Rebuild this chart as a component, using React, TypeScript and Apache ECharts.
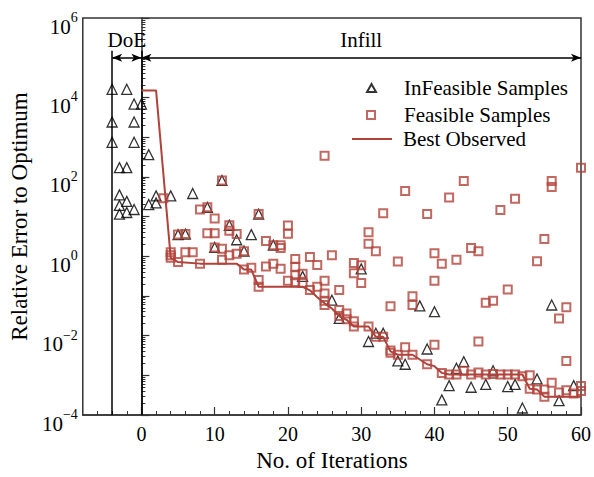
import React, { useEffect, useRef } from 'react';
import * as echarts from 'echarts';

const FONT = '"Liberation Serif", "Times New Roman", serif';
const RED = '#B1423A';
const DARK = '#333333';

const seriesNames = ['InFeasible Samples', 'Feasible Samples', 'Best Observed'];
const phaseLabels = ['DoE', 'Infill'];
const xAxisTitle = 'No. of Iterations';
const yAxisTitle = 'Relative Error to Optimum';

const xMajorTicks = [0, 10, 20, 30, 40, 50, 60];
const xMinorTicks = [-6, -4, -2, 2, 4, 6, 8, 12, 14, 16, 18, 22, 24, 26, 28, 32, 34, 36, 38, 42, 44, 46, 48, 52, 54, 56, 58];
const yMajorTicks = [1e-4, 1e-3, 1e-2, 1e-1, 1, 1e1, 1e2, 1e3, 1e4, 1e5, 1e6];
const yLabelTicks = [1e-4, 1e-2, 1, 1e2, 1e4, 1e6];
const yMinorMultipliers = [2, 3, 4, 5, 6, 7, 8, 9];

const targetError = 1e-3;
const doeStart = -4;
const infillStart = 0;
const lastIter = 60;

const infeasible: [number, number][] = [
  [-4, 1.6e4], [-4, 2.4e3], [-4, 7.4e2],
  [-3, 1.7e2], [-3, 35], [-3, 19], [-3, 11.5],
  [-2, 1.6e4], [-2, 1.7e2], [-2, 24], [-2, 12.6],
  [-1, 6.8e3], [-1, 2.4e3], [-1, 7.4e2], [-1, 15],
  [0, 6.8e3],
  [1, 3.6e2], [1, 20], [2, 33], [2, 22], [4, 33],
  [5, 3.5], [6, 3.6], [7, 38], [9, 17], [10, 1.66], [11, 81], [12, 6], [13, 2.6], [14, 1.35], [15, 3.5], [16, 11.5],
  [18, 1.9], [22, 0.31], [26, 0.078], [27, 0.027], [30, 0.48], [31, 7.1e-3], [32, 0.0115], [33, 0.0115],
  [35, 2.3e-3], [36, 1.9e-3], [38, 0.056], [39, 4.6e-3], [40, 0.04], [41, 2.4e-4], [42, 5.5e-4], [43, 1.5e-3],
  [44, 2.2e-3], [45, 5e-4], [47, 5.9e-4], [48, 1.3e-3], [50, 5.2e-4], [51, 5.9e-4], [52, 1.5e-4], [54, 8.1e-4],
  [56, 0.059], [57, 2.3e-4], [59, 5.5e-4],
];

const feasible: [number, number][] = [
  [3, 29],
  [4, 1.26], [4, 1.05], [4, 0.91],
  [5, 3.5], [5, 0.71],
  [6, 3.6], [6, 1.26],
  [7, 1.26],
  [8, 15], [8, 0.65],
  [9, 17], [9, 3.8],
  [10, 8.9], [10, 3.8], [10, 1.66],
  [11, 81], [11, 1.55], [11, 0.81],
  [12, 6], [12, 4.4], [12, 1.05],
  [13, 3.6], [13, 1.15],
  [14, 1.33], [14, 0.46],
  [15, 0.51],
  [16, 11.5], [16, 0.25], [16, 0.17],
  [17, 2.4], [17, 0.55],
  [18, 1.9], [18, 0.65],
  [19, 1.9], [19, 1.6], [19, 0.48],
  [20, 5.9], [20, 3.7], [20, 0.24],
  [21, 0.85], [21, 0.54], [21, 0.33], [21, 0.22],
  [22, 0.36], [22, 0.21],
  [23, 0.95], [23, 0.14],
  [24, 0.6], [24, 0.17],
  [25, 340], [25, 0.24], [25, 0.115], [25, 0.075], [25, 0.059],
  [26, 1.05],
  [27, 0.14], [27, 0.044], [27, 0.031],
  [28, 0.036], [28, 0.026],
  [29, 0.67], [29, 0.37], [29, 0.023], [29, 0.017],
  [30, 0.59], [30, 0.21],
  [31, 4], [31, 2.05], [31, 0.017],
  [32, 1.33], [32, 0.0093],
  [33, 12], [33, 0.0093],
  [34, 0.055], [34, 0.0042], [34, 0.0037],
  [35, 0.74], [35, 0.0033],
  [36, 44], [36, 0.0051],
  [37, 0.098], [37, 0.059], [37, 0.0033],
  [39, 11.5], [39, 0.0019],
  [40, 1.19], [40, 0.24], [40, 0.0059],
  [41, 0.65], [41, 0.00115],
  [42, 30], [42, 0.00105],
  [43, 0.81], [43, 0.00105],
  [44, 78], [44, 0.0013],
  [45, 1.6], [45, 0.00105],
  [46, 1.33], [46, 0.0071], [46, 0.00118],
  [47, 0.067], [47, 0.00105],
  [48, 0.075], [48, 0.00108],
  [49, 14.5], [49, 0.00105],
  [50, 0.145], [50, 0.00105],
  [51, 28], [51, 0.00105],
  [52, 0.00095],
  [53, 0.001], [53, 0.00046],
  [54, 0.75], [54, 0.00044],
  [55, 2.7], [55, 0.00044], [55, 0.00029],
  [56, 78], [56, 55], [56, 0.00065],
  [57, 0.027], [57, 0.00037],
  [58, 0.052], [58, 0.0023], [58, 0.00042],
  [59, 0.00035],
  [60, 170], [60, 0.00054], [60, 0.0004],
];

const bestObserved: [number, number][] = [
  [0, 1.5e4], [2, 1.5e4], [4, 0.91], [5, 0.71], [8, 0.65], [13, 0.65], [14, 0.46], [15, 0.46],
  [16, 0.17], [22, 0.17], [23, 0.138], [24, 0.093], [25, 0.065], [26, 0.048], [27, 0.031], [28, 0.025],
  [29, 0.017], [31, 0.017], [32, 0.0093], [33, 0.0093], [34, 0.004], [35, 0.0033], [37, 0.0033],
  [39, 0.0019], [40, 0.0017], [41, 0.00115], [42, 0.00105], [52, 0.00105], [53, 0.00046], [54, 0.00044],
  [55, 0.00029], [60, 0.00029],
];

const annotationTop = 1.5e5;
const arrowLevel = 1e5;
const labelLevel = 2.8e5;

function supExp(v: number): string {
  const e = Math.round(Math.log10(v));
  const s = e < 0 ? '\u2212' + String(-e) : String(e);
  return `{b|10}{s|${s}}`;
}

const legendText = { fontSize: 21, fontFamily: FONT, color: '#000', lineHeight: 24 };

export default function App() {
  const ref = useRef<HTMLDivElement>(null);
  useEffect(() => {
    document.body.style.margin = '0';
    if (!ref.current) return;
    const chart = echarts.init(ref.current, undefined, { renderer: 'svg' });
    const yMinor: number[] = [];
    for (let i = 0; i < yMajorTicks.length - 1; i++) {
      for (const m of yMinorMultipliers) yMinor.push(m * yMajorTicks[i]);
    }
    const xMin = -8;
    const option: any = {
      animation: false,
      textStyle: { fontFamily: FONT },
      grid: { left: 82, right: 9, top: 18, bottom: 59, show: true, borderColor: DARK, borderWidth: 1.5, backgroundColor: 'transparent' },
      legend: [
        {
          data: [{ name: seriesNames[0], icon: 'triangle' }],
          left: 361, top: 71, itemWidth: 9, itemHeight: 8, selectedMode: false,
          textStyle: { ...legendText, padding: [0, 0, 0, 23] },
        },
        {
          data: [{ name: seriesNames[1], icon: 'rect' }],
          left: 361, top: 98, itemWidth: 8, itemHeight: 8, selectedMode: false,
          textStyle: { ...legendText, padding: [0, 0, 0, 24] },
        },
        {
          data: [{ name: seriesNames[2], icon: 'path://M0,0 L40,0 L40,2 L0,2 Z' }],
          left: 347, top: 122, itemWidth: 40, itemHeight: 2, selectedMode: false,
          textStyle: { ...legendText, padding: [0, 0, 0, 6] },
        },
      ],
      xAxis: [
        {
          type: 'value', min: xMin, max: lastIter, position: 'bottom',
          name: xAxisTitle, nameLocation: 'middle', nameGap: 34,
          nameTextStyle: { fontSize: 23, fontFamily: FONT, color: '#000' },
          axisLine: { show: true, lineStyle: { color: DARK, width: 1.5 } },
          axisTick: { show: true, inside: true, length: 8, customValues: xMajorTicks, lineStyle: { color: DARK, width: 1.2 } },
          axisLabel: { show: true, customValues: xMajorTicks, margin: 9, fontSize: 20, fontFamily: FONT, color: '#000' },
          splitLine: { show: false },
        },
        {
          type: 'value', min: xMin, max: lastIter, position: 'bottom',
          axisLine: { show: false },
          axisTick: { show: true, inside: true, length: 4, customValues: xMinorTicks, lineStyle: { color: DARK, width: 1 } },
          axisLabel: { show: false },
          splitLine: { show: false },
        },
      ],
      yAxis: [
        {
          type: 'log', logBase: 10, min: 1e-4, max: 1e6, position: 'left',
          name: yAxisTitle, nameLocation: 'middle', nameGap: 31,
          nameTextStyle: { fontSize: 23, fontFamily: FONT, color: '#000' },
          axisLine: { show: true, lineStyle: { color: DARK, width: 1.5 } },
          axisTick: { show: true, inside: true, length: 8, customValues: yMajorTicks, lineStyle: { color: DARK, width: 1.2 } },
          axisLabel: {
            show: true, customValues: yLabelTicks, margin: 5,
            padding: [5, 0, 0, 0],
            formatter: (v: number) => supExp(v),
            rich: {
              b: { fontSize: 21, fontFamily: FONT, color: '#000', padding: [12, 0, 0, 0] },
              s: { fontSize: 14, fontFamily: FONT, color: '#000', padding: [0, 0, 6, 0] },
            },
          },
          splitLine: { show: false },
        },
        {
          type: 'log', logBase: 10, min: 1e-4, max: 1e6, position: 'left',
          axisLine: { show: false },
          axisTick: { show: true, inside: true, length: 4, customValues: yMinor, lineStyle: { color: DARK, width: 1 } },
          axisLabel: { show: false },
          splitLine: { show: false },
        },
      ],
      series: [
        {
          name: seriesNames[0], type: 'scatter', data: infeasible, symbol: 'triangle', symbolSize: 10,
          itemStyle: { color: 'rgba(0,0,0,0)', borderColor: '#000', borderWidth: 1.3 },
          z: 3,
        },
        {
          name: seriesNames[1], type: 'scatter', data: feasible, symbol: 'rect', symbolSize: 8,
          itemStyle: { color: 'rgba(0,0,0,0)', borderColor: RED, borderWidth: 2 },
          z: 4,
        },
        {
          name: seriesNames[2], type: 'line', data: bestObserved, symbol: 'none', showSymbol: false,
          lineStyle: { color: RED, width: 2 }, itemStyle: { color: RED },
          z: 5,
        },
        {
          name: 'annotations', type: 'line', data: [], symbol: 'none',
          markLine: {
            silent: true, symbol: 'none', animation: false,
            label: { show: false },
            lineStyle: { color: '#000', width: 1.5, type: 'solid' },
            data: [
              [{ coord: [doeStart, annotationTop] }, { coord: [doeStart, 1e-4] }],
              [{ coord: [infillStart, annotationTop] }, { coord: [infillStart, 1e-4] }],
              [{ coord: [doeStart, arrowLevel], symbol: 'arrow', symbolSize: [6, 10] }, { coord: [infillStart, arrowLevel], symbol: 'arrow', symbolSize: [6, 10] }],
              [{ coord: [infillStart, arrowLevel], symbol: 'arrow', symbolSize: [6, 10] }, { coord: [lastIter, arrowLevel], symbol: 'arrow', symbolSize: [6, 10] }],
              { yAxis: targetError, lineStyle: { type: [5, 4], width: 1.2, color: '#000' } },
            ],
          },
          markPoint: {
            silent: true, symbol: 'rect', symbolSize: 1,
            itemStyle: { color: 'rgba(0,0,0,0)' },
            label: { show: true, position: 'inside', formatter: '{b}', color: '#000', fontSize: 21, fontFamily: FONT },
            data: [
              { name: phaseLabels[0], coord: [(doeStart + infillStart) / 2, labelLevel] },
              { name: phaseLabels[1], coord: [(infillStart + lastIter) / 2, labelLevel] },
            ],
          },
        },
      ],
    };
    chart.setOption(option);
    return () => chart.dispose();
  }, []);
  return <div ref={ref} style={{ position: 'absolute', left: 0, top: 0, width: 594, height: 477 }} />;
}
